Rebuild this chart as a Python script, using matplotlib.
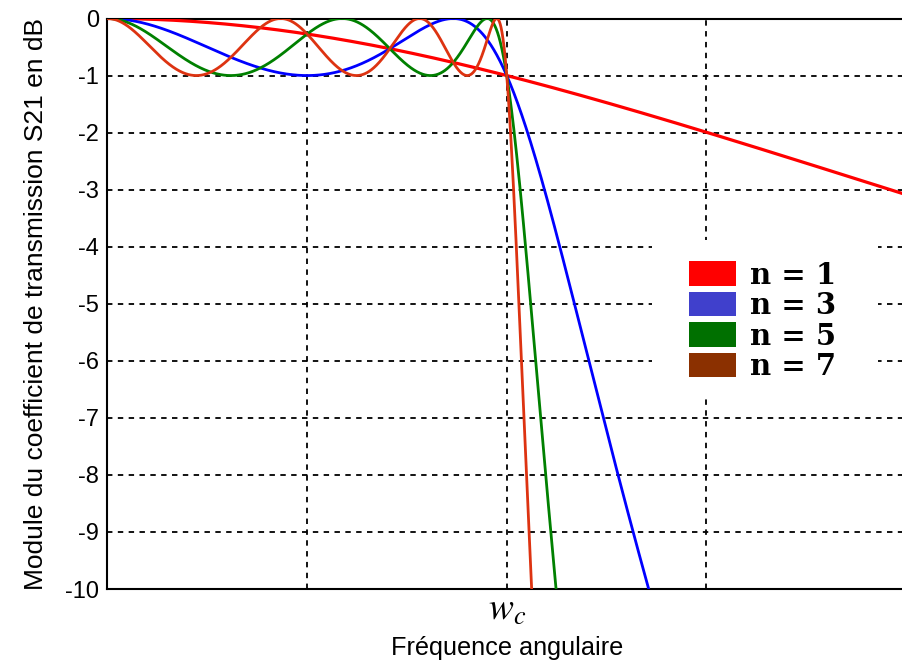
import numpy as np
import matplotlib
matplotlib.use('Agg')
import matplotlib.pyplot as plt
from matplotlib.patches import Patch, Rectangle

# Chebyshev type I low-pass, 1 dB ripple, odd orders
orders = [1, 3, 5, 7]
ripple_db = 1.0
line_colors = ['#ff0000', '#0000ff', '#008000', '#dd3311']
legend_colors = ['#ff0000', '#4040cc', '#007000', '#8b3000']
legend_labels = ['n = 1', 'n = 3', 'n = 5', 'n = 7']

y_ticks = [0, -1, -2, -3, -4, -5, -6, -7, -8, -9, -10]
x_grid = [0.5, 1.0, 1.5]

plt.rcParams['font.family'] = ['Liberation Sans', 'DejaVu Sans']
plt.rcParams['mathtext.fontset'] = 'stix'

fig = plt.figure(figsize=(9.03, 6.61), dpi=100)
ax = fig.add_axes([107.5 / 903, 1 - 589 / 661, (906 - 107.5) / 903, (589 - 18.5) / 661])

eps2 = 10 ** (ripple_db / 10) - 1
w = np.linspace(0, 2, 4000)
for n, col in zip(orders, line_colors):
    coef = np.zeros(n + 1)
    coef[n] = 1
    tn = np.polynomial.chebyshev.chebval(w, coef)
    gain = -10 * np.log10(1 + eps2 * tn ** 2)
    ax.plot(w, gain, color=col, lw=2.3 if n == 1 else 2.0, solid_joinstyle='round', zorder=3)

ax.set_xlim(0, 2)
ax.set_ylim(-10, 0)
ax.set_yticks(y_ticks)
ax.set_yticklabels([str(t) for t in y_ticks], fontsize=17)
ax.set_xticks([1.0])
ax.set_xticklabels([r'$w_c$'], fontsize=27)
ax.tick_params(length=0, pad=6)
ax.tick_params(axis='x', pad=2)

for y in y_ticks[1:-1]:
    ax.axhline(y, color='black', lw=1.3, ls=(0, (3, 3)), zorder=0)
for x in x_grid:
    ax.axvline(x, color='black', lw=1.3, ls=(0, (3, 3)), zorder=0)

for sp in ax.spines.values():
    sp.set_linewidth(1.5)

ax.set_xlabel('Fréquence angulaire', fontsize=18.2, labelpad=6)
ax.set_ylabel('Module du coefficient de transmission S21 en dB', fontsize=19, labelpad=12)

# white box behind the legend, wider than the entries
ax.add_patch(Rectangle((0.682, 0.340), 0.283, 0.272, transform=ax.transAxes,
                       facecolor='white', edgecolor='none', zorder=1))

handles = [Patch(facecolor=c, edgecolor='none') for c in legend_colors]
leg = ax.legend(handles, legend_labels, loc='upper left', bbox_to_anchor=(0.714, 0.596),
                frameon=False, handlelength=1.59, handleheight=0.9, labelspacing=0.05,
                handletextpad=0.5, borderaxespad=0, borderpad=0.4,
                prop={'family': ['DejaVu Serif'], 'weight': 'bold', 'size': 21})
leg.set_zorder(5)

fig.savefig('out.png', dpi=100)
